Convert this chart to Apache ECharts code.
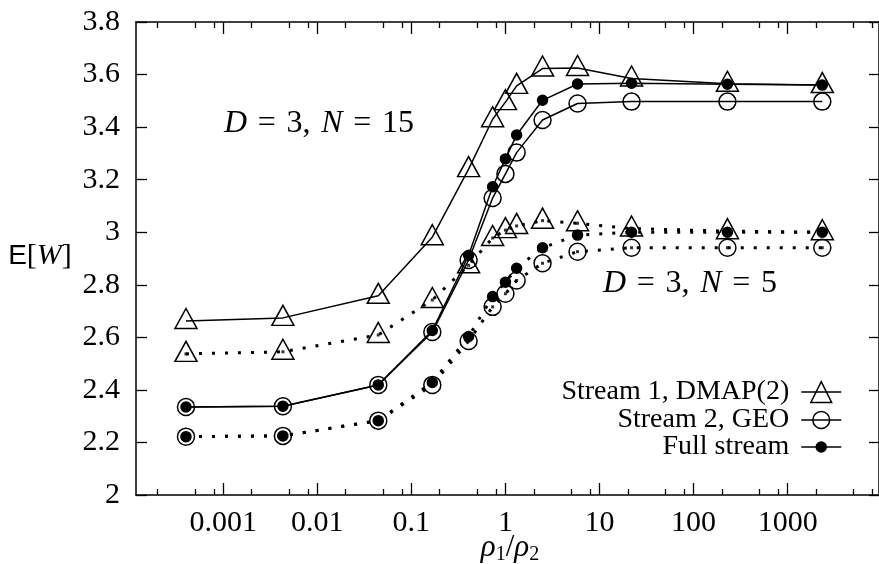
<!DOCTYPE html>
<html><head><meta charset="utf-8">
<script src="https://cdn.jsdelivr.net/npm/echarts@6/dist/echarts.min.js"></script>
<style>html,body{margin:0;padding:0;background:#fff}#c{width:879px;height:564px}</style>
</head><body><div id="c"></div>
<script>
// ---- data ----
const rho = [0.000402, 0.00431, 0.0445, 0.167, 0.406, 0.731, 1.0, 1.315, 2.48, 5.84, 21.9, 229, 2335];
const stream1_N15 = [2.662, 2.674, 2.758, 2.981, 3.24, 3.43, 3.495, 3.557, 3.623, 3.625, 3.585, 3.565, 3.56];
const stream2_N15 = [2.335, 2.338, 2.419, 2.62, 2.894, 3.13, 3.222, 3.303, 3.427, 3.49, 3.497, 3.497, 3.497];
const full_N15    = [2.335, 2.338, 2.419, 2.626, 2.912, 3.173, 3.279, 3.37, 3.502, 3.564, 3.567, 3.563, 3.56];
const stream1_N5  = [2.537, 2.545, 2.609, 2.742, 2.874, 2.978, 3.008, 3.024, 3.044, 3.034, 3.014, 3.004, 3.0];
const stream2_N5  = [2.222, 2.225, 2.283, 2.419, 2.586, 2.716, 2.766, 2.816, 2.882, 2.926, 2.941, 2.941, 2.941];
const full_N5     = [2.222, 2.225, 2.283, 2.428, 2.603, 2.755, 2.81, 2.863, 2.941, 2.989, 3.0, 3.0, 3.0];
const legendNames = ['Stream 1, DMAP(2)', 'Stream 2, GEO', 'Full stream'];
const xMajorTicks = [0.001, 0.01, 0.1, 1, 10, 100, 1000];
const xTickLabels = ['0.001', '0.01', '0.1', '1', '10', '100', '1000'];
const xMinorTicks = [0.0002, 0.0005, 0.0008, 0.002, 0.005, 0.008, 0.02, 0.05, 0.08, 0.2, 0.5, 0.8,
                     2, 5, 8, 20, 50, 80, 200, 500, 800, 2000, 5000, 8000];
const X_MIN = 1.183e-4, X_MAX = 9354;
const Y_MIN = 2, Y_MAX = 3.8, Y_STEP = 0.2;

// ---- styling ----
const SERIF = '"Liberation Serif", "Times New Roman", serif';
const SANS = '"Liberation Sans", "DejaVu Sans", sans-serif';
const BLACK = '#000';
const TR = 'rgba(0,0,0,0)';

function pts(ys) { return rho.map((x, i) => [x, ys[i]]); }

function lineSeries(name, ys, symbol, size, fill, dotted) {
  const s = {
    type: 'line', name: name, data: pts(ys),
    symbol: symbol, symbolSize: size, showSymbol: true, showAllSymbol: true,
    itemStyle: { color: fill, borderColor: BLACK, borderWidth: 1.5 },
    lineStyle: dotted ? { color: BLACK, width: 3, type: [3, 10], cap: 'butt' }
                      : { color: BLACK, width: 1.5, type: 'solid' },
    emphasis: { disabled: true }, silent: true, animation: false
  };
  if (symbol === 'triangle') s.symbolOffset = [0, -2.5];
  return s;
}
function centerDots(ys) {
  return { type: 'scatter', data: pts(ys), symbol: 'rect', symbolSize: 3,
    itemStyle: { color: BLACK }, silent: true, animation: false, z: 5 };
}

function majorLabel(v) {
  const e = Math.round(Math.log10(v));
  const idx = xMajorTicks.findIndex(t => Math.round(Math.log10(t)) === e);
  return idx >= 0 ? xTickLabels[idx] : '';
}

function xAxisDef(pos, ticks, len, labels) {
  return {
    type: 'log', logBase: 10, position: pos, min: X_MIN, max: X_MAX,
    axisLine: { show: labels !== null, onZero: false, lineStyle: { color: BLACK, width: 1.5 } },
    axisTick: { show: true, inside: true, length: len, customValues: ticks, lineStyle: { color: BLACK, width: 1.3 } },
    axisLabel: labels ? { show: true, customValues: ticks, formatter: majorLabel, margin: 13,
                          color: BLACK, fontFamily: SERIF, fontSize: 30 } : { show: false },
    splitLine: { show: false }, minorTick: { show: false }
  };
}

const legendBase = (name, top, h) => ({
  data: [name], orient: 'vertical', right: 37, top: top, align: 'right',
  itemWidth: 40, itemHeight: h, itemGap: 0, padding: 0,
  textStyle: { color: BLACK, fontFamily: SERIF, fontSize: 28, padding: [0, 7, 0, 0] },
  itemStyle: { borderWidth: 1.5 }, lineStyle: { width: 1.5 },
  selectedMode: false
});

const chart = echarts.init(document.getElementById('c'), null, { renderer: 'canvas' });
chart.setOption({
  animation: false,
  backgroundColor: '#fff',
  grid: { left: 136, top: 22, right: -1, bottom: 69, containLabel: false },
  xAxis: [
    xAxisDef('bottom', xMajorTicks, 12, true),
    xAxisDef('bottom', xMinorTicks, 6, null),
    xAxisDef('top', xMajorTicks, 12, false),
    xAxisDef('top', xMinorTicks, 6, null)
  ],
  yAxis: [
    { type: 'value', position: 'left', min: Y_MIN, max: Y_MAX, interval: Y_STEP,
      axisLine: { show: true, onZero: false, lineStyle: { color: BLACK, width: 1.5 } },
      axisTick: { show: true, inside: true, length: 11, lineStyle: { color: BLACK, width: 1.3 } },
      axisLabel: { color: BLACK, fontFamily: SERIF, fontSize: 30, margin: 16 },
      splitLine: { show: false } },
    { type: 'value', position: 'right', min: Y_MIN, max: Y_MAX, interval: Y_STEP,
      axisLine: { show: true, onZero: false, lineStyle: { color: BLACK, width: 1.5 } },
      axisTick: { show: true, inside: true, length: 10, lineStyle: { color: BLACK, width: 1.3 } },
      axisLabel: { show: false }, splitLine: { show: false } }
  ],
  legend: [
    legendBase(legendNames[0], 378, 26),
    legendBase(legendNames[1], 406, 21),
    legendBase(legendNames[2], 433, 12.5)
  ],
  series: [
    lineSeries(legendNames[0], stream1_N15, 'triangle', [22, 20], TR, false),
    lineSeries(legendNames[0] + ' (N=5)', stream1_N5, 'triangle', [22, 20], TR, true),
    lineSeries(legendNames[1], stream2_N15, 'circle', 17, TR, false),
    lineSeries(legendNames[1] + ' (N=5)', stream2_N5, 'circle', 17, TR, true),
    lineSeries(legendNames[2], full_N15, 'circle', 10, BLACK, false),
    lineSeries(legendNames[2] + ' (N=5)', full_N5, 'circle', 10, BLACK, true),
    centerDots(stream1_N5),
    centerDots(stream2_N5)
  ],
  graphic: [
    { type: 'text', x: 224, y: 124, silent: true,
      style: { text: '{i|D}{r|\u2004=\u20043,\u2004}{i|N}{r|\u2004=\u200415}', verticalAlign: 'middle',
        rich: { i: { fontFamily: SERIF, fontStyle: 'italic', fontSize: 32, fill: BLACK },
                r: { fontFamily: SERIF, fontSize: 32, fill: BLACK } } } },
    { type: 'text', x: 603, y: 284, silent: true,
      style: { text: '{i|D}{r|\u2004=\u20043,\u2004}{i|N}{r|\u2004=\u20045}', verticalAlign: 'middle',
        rich: { i: { fontFamily: SERIF, fontStyle: 'italic', fontSize: 32, fill: BLACK },
                r: { fontFamily: SERIF, fontSize: 32, fill: BLACK } } } },
    { type: 'text', x: 40, y: 256, silent: true,
      style: { text: '{s|E}{r|[}{i|W}{r|]}', align: 'center', verticalAlign: 'middle',
        rich: { s: { fontFamily: SANS, fontSize: 28, fill: BLACK },
                i: { fontFamily: SERIF, fontStyle: 'italic', fontSize: 30, fill: BLACK },
                r: { fontFamily: SERIF, fontSize: 30, fill: BLACK } } } },
    { type: 'text', x: 510, y: 548, silent: true,
      style: { text: '{i|ρ}{b|1}{r|/}{i|ρ}{b|2}', align: 'center', verticalAlign: 'middle',
        rich: { i: { fontFamily: SERIF, fontStyle: 'italic', fontSize: 31, fill: BLACK, lineHeight: 34, verticalAlign: 'middle' },
                b: { fontFamily: SERIF, fontSize: 20, fill: BLACK, lineHeight: 34, verticalAlign: 'bottom' },
                r: { fontFamily: SERIF, fontSize: 31, fill: BLACK, lineHeight: 34, verticalAlign: 'middle' } } } }
  ]
});
</script>
</body></html>
